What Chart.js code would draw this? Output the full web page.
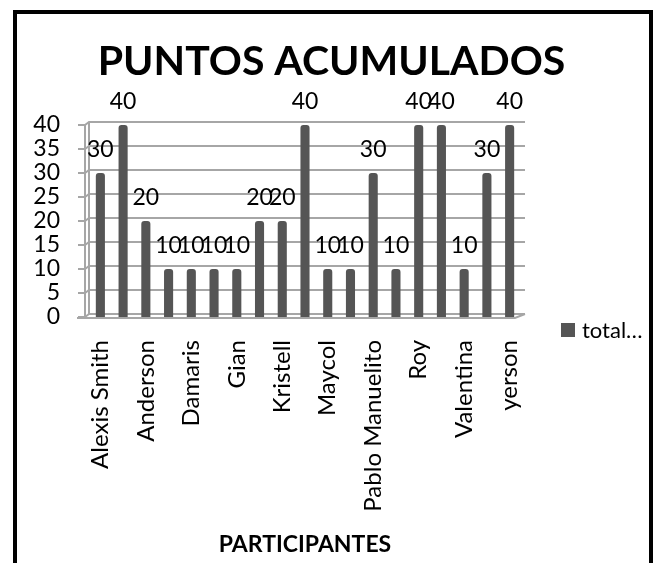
<!DOCTYPE html>
<html>
<head>
<meta charset="utf-8">
<script src="https://cdn.jsdelivr.net/npm/chart.js@4.4.1/dist/chart.umd.min.js"></script>
<style>
  html, body { margin: 0; padding: 0; background: #fff; }
</style>
</head>
<body>
<canvas id="chart" width="663" height="563"></canvas>
<script>
// --- Datos del gráfico ---
// solo se ven los nombres de las categorías pares; las demás quedan vacías
const categories = [
  'Alexis Smith', '', 'Anderson', '', 'Damaris', '', 'Gian', '', 'Kristell', '',
  'Maycol', '', 'Pablo Manuelito', '', 'Roy', '', 'Valentina', '', 'yerson'
];
const totalPoints = [30, 40, 20, 10, 10, 10, 10, 20, 20, 40, 10, 10, 30, 10, 40, 40, 10, 30, 40];
const yTickValues = [0, 5, 10, 15, 20, 25, 30, 35, 40];
const seriesName = 'total…';

const FONT = 'Lato, "Open Sans", sans-serif';
const BAR_COLOR = '#555555';
const GRID_COLOR = '#a6a6a6';

// marco negro alrededor del gráfico
const framePlugin = {
  id: 'frame',
  beforeDraw(chart) {
    const ctx = chart.ctx;
    ctx.save();
    ctx.fillStyle = '#fff';
    ctx.fillRect(0, 0, chart.width, chart.height);
    ctx.restore();
  },
  afterDraw(chart) {
    const ctx = chart.ctx;
    ctx.save();
    ctx.strokeStyle = '#000';
    ctx.lineWidth = 4;
    ctx.strokeRect(15, 12, 636, 620);
    ctx.restore();
  }
};

// rejilla con un poco de efecto 3D (pared de fondo + piso)
const wallPlugin = {
  id: 'wall3d',
  beforeDatasetsDraw(chart) {
    const { ctx, chartArea } = chart;
    const y = chart.scales.y;
    const L = chartArea.left, R = chartArea.right;
    const top = y.getPixelForValue(yTickValues[yTickValues.length - 1]);
    const bottom = y.getPixelForValue(0);
    ctx.save();
    ctx.strokeStyle = GRID_COLOR;
    ctx.lineWidth = 2;
    yTickValues.forEach(v => {
      const py = Math.round(y.getPixelForValue(v));
      ctx.beginPath();
      ctx.moveTo(L - 11, py);
      ctx.lineTo(L - 4, py);
      ctx.lineTo(L, py - 3);
      ctx.lineTo(R + 4, py - 3);
      ctx.stroke();
    });
    // aristas verticales
    ctx.beginPath();
    ctx.moveTo(L - 4, top);
    ctx.lineTo(L - 4, bottom);
    ctx.moveTo(L, top - 3);
    ctx.lineTo(L, bottom - 3);
    ctx.stroke();
    // borde frontal del piso
    ctx.beginPath();
    ctx.moveTo(L - 12, bottom + 1);
    ctx.lineTo(R - 6, bottom + 1);
    ctx.lineTo(R + 4, bottom - 3);
    ctx.stroke();
    ctx.restore();
  }
};

// etiquetas de valor sobre cada barra
const valueLabelsPlugin = {
  id: 'valueLabels',
  afterDatasetsDraw(chart) {
    const ctx = chart.ctx;
    const meta = chart.getDatasetMeta(0);
    ctx.save();
    ctx.font = '23px ' + FONT;
    ctx.fillStyle = '#000';
    ctx.textAlign = 'center';
    ctx.textBaseline = 'alphabetic';
    meta.data.forEach((bar, i) => {
      ctx.fillText(String(totalPoints[i]), bar.x, bar.y - 16);
    });
    ctx.restore();
  }
};

// leyenda a la derecha, dibujada a mano para fijar su posición
const sideLegendPlugin = {
  id: 'sideLegend',
  afterDraw(chart) {
    const ctx = chart.ctx;
    const ds = chart.data.datasets[0];
    ctx.save();
    ctx.fillStyle = ds.backgroundColor;
    ctx.fillRect(561, 323, 14, 14);
    ctx.font = '22px ' + FONT;
    ctx.fillStyle = '#000';
    ctx.textAlign = 'left';
    ctx.textBaseline = 'middle';
    ctx.fillText(ds.label, 582, 331);
    ctx.restore();
  }
};

const chart = new Chart(document.getElementById('chart'), {
  type: 'bar',
  data: {
    labels: categories,
    datasets: [{
      label: seriesName,
      data: totalPoints,
      backgroundColor: BAR_COLOR,
      borderWidth: 0,
      borderRadius: { topLeft: 3, topRight: 3 },
      borderSkipped: 'bottom',
      barPercentage: 0.4,
      categoryPercentage: 1
    }]
  },
  options: {
    responsive: false,
    animation: false,
    devicePixelRatio: 1,
    layout: { padding: 0 },
    plugins: {
      title: {
        display: true,
        text: 'PUNTOS ACUMULADOS',
        color: '#000',
        font: { family: FONT, size: 41, weight: 'bold', lineHeight: 1.2 },
        padding: { top: 37, bottom: 38.8 }
      },
      legend: { display: false },
      tooltip: { enabled: false }
    },
    scales: {
      x: {
        grid: { display: false, drawTicks: false },
        border: { display: false },
        ticks: {
          autoSkip: false,
          maxRotation: 90,
          minRotation: 90,
          padding: 23,
          color: '#000',
          font: { family: FONT, size: 24 }
        },
        title: {
          display: true,
          text: 'PARTICIPANTES',
          color: '#000',
          font: { family: FONT, size: 23, weight: 'bold' },
          padding: { top: 4, bottom: 5 }
        },
        afterFit(scale) { scale.height = 246; }
      },
      y: {
        min: 0,
        max: 40,
        grid: { display: false, drawTicks: false },
        border: { display: false },
        afterBuildTicks(scale) {
          scale.ticks = yTickValues.map(v => ({ value: v }));
        },
        ticks: {
          autoSkip: false,
          padding: 29,
          color: '#000',
          font: { family: FONT, size: 23 }
        },
        afterFit(scale) { scale.width = 89; }
      },
      // eje vacío que sólo reserva el hueco de la leyenda
      legendSpace: {
        type: 'linear',
        axis: 'y',
        position: 'right',
        grid: { display: false, drawTicks: false },
        border: { display: false },
        ticks: { display: false },
        afterFit(scale) { scale.width = 142; }
      }
    }
  },
  plugins: [framePlugin, wallPlugin, valueLabelsPlugin, sideLegendPlugin]
});
</script>
</body>
</html>
